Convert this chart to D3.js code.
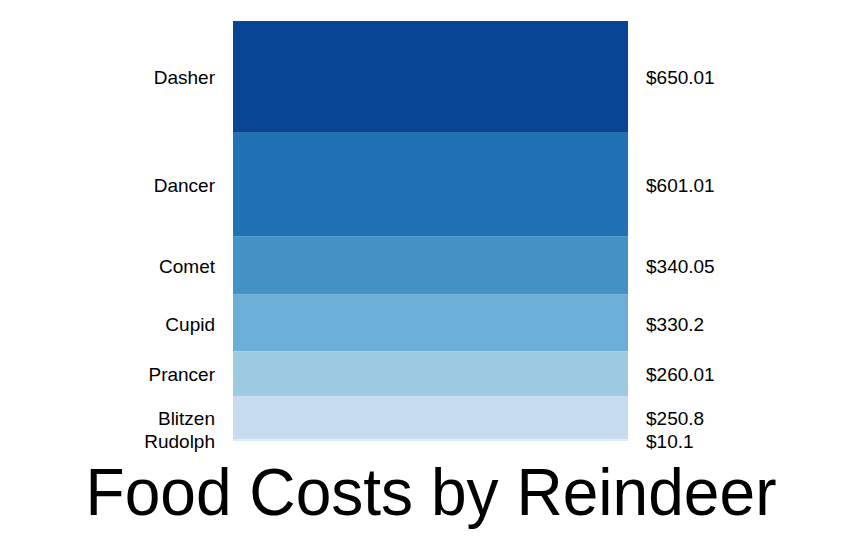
<!DOCTYPE html>
<html>
<head>
<meta charset="utf-8">
<script src="https://cdn.jsdelivr.net/npm/d3@7"></script>
<style>
  html, body { margin: 0; padding: 0; background: #fff; }
  text { font-family: Arial, "Liberation Sans", sans-serif; fill: #000; }
</style>
</head>
<body>
<svg id="chart" width="862" height="538"></svg>
<script>
const names = ["Dasher", "Dancer", "Comet", "Cupid", "Prancer", "Blitzen", "Rudolph"];
const costs = [650.01, 601.01, 340.05, 330.2, 260.01, 250.8, 10.1];
const colors = ["#084594", "#2171b5", "#4292c6", "#6baed6", "#9ecae1", "#c6dbef", "#deebf7"];
const title = "Food Costs by Reindeer";

const svg = d3.select("#chart");
const plotTop = 21, plotBottom = 441, plotLeft = 233, plotRight = 628;

const total = d3.sum(costs);
const y = d3.scaleLinear().domain([0, total]).range([plotTop, plotBottom]);

let acc = 0;
const data = names.map((n, i) => {
  const d = { name: n, value: costs[i], color: colors[i], y0: acc, y1: acc + costs[i] };
  acc += costs[i];
  return d;
});

svg.selectAll("rect.seg").data(data).enter().append("rect")
  .attr("class", "seg")
  .attr("x", plotLeft)
  .attr("width", plotRight - plotLeft)
  .attr("y", d => y(d.y0))
  .attr("height", d => y(d.y1) - y(d.y0))
  .attr("fill", d => d.color);

svg.selectAll("text.name").data(data).enter().append("text")
  .attr("class", "name")
  .attr("x", 215)
  .attr("y", d => (y(d.y0) + y(d.y1)) / 2 + 7.5)
  .attr("text-anchor", "end")
  .style("font-size", "19px")
  .text(d => d.name);

svg.selectAll("text.val").data(data).enter().append("text")
  .attr("class", "val")
  .attr("x", 646)
  .attr("y", d => (y(d.y0) + y(d.y1)) / 2 + 7.5)
  .attr("text-anchor", "start")
  .style("font-size", "19px")
  .text(d => "$" + d.value);

svg.append("text")
  .attr("x", 431)
  .attr("y", 515)
  .attr("text-anchor", "middle")
  .attr("textLength", 691)
  .attr("lengthAdjust", "spacingAndGlyphs")
  .style("font-size", "67px")
  .text(title);
</script>
</body>
</html>
